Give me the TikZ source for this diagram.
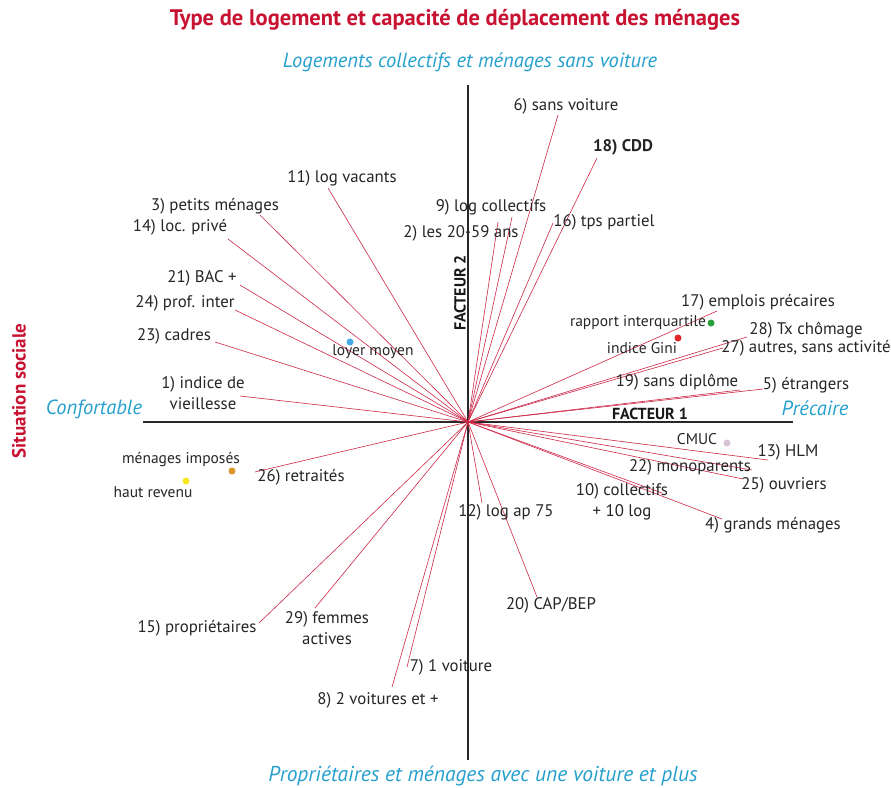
\documentclass[tikz,border=0pt]{standalone}
\usepackage{fontspec}
\setmainfont{PT Sans}
\definecolor{ttred}{RGB}{200,18,50}
\definecolor{lnred}{RGB}{205,40,70}
\definecolor{capcyan}{RGB}{38,160,205}
\definecolor{axgray}{RGB}{40,40,40}
\definecolor{dblue}{RGB}{70,170,230}
\definecolor{dgreen}{RGB}{40,160,60}
\definecolor{dred}{RGB}{220,40,40}
\definecolor{dlilac}{RGB}{215,195,215}
\definecolor{dorange}{RGB}{220,150,40}
\definecolor{dyellow}{RGB}{250,230,30}
\tikzset{
  lbl/.style={font=\fontsize{16.8}{20.5}\selectfont, inner sep=0pt, align=center, text=black!85},
  sml/.style={font=\fontsize{15.5}{17}\selectfont, inner sep=0pt, text=black!85},
  ray/.style={draw=lnred, line width=0.6pt},
  axisline/.style={draw=axgray, line width=1.2pt},
  captxt/.style={font=\fontsize{20.5}{23}\selectfont\itshape, text=capcyan, inner sep=0pt},
  ttl/.style={font=\fontsize{22.5}{25}\selectfont\bfseries, text=ttred, inner sep=0pt},
  fac/.style={font=\fontsize{16}{18}\selectfont\bfseries, inner sep=0pt, text=black!90},
  dotm/.style={circle, inner sep=0pt, minimum size=7pt}
}
\begin{document}
\begin{tikzpicture}[x=1pt,y=-1pt]
\useasboundingbox[fill=white] (0,0) rectangle (891,787);
% axes
\coordinate (O) at (468,422);
\coordinate (vt) at (468,85);
\coordinate (vb) at (468,760);
\coordinate (hl) at (143,422);
\coordinate (hr) at (793,422);
\draw[axisline] (vt) -- (vb);
\draw[axisline] (hl) -- (hr);
% titles
\node[ttl] (title) at (455,20) {Type de logement et capacité de déplacement des ménages};
\node[captxt] (ctop) at (470,62) {Logements collectifs et ménages sans voiture};
\node[captxt, font=\fontsize{21.5}{24}\selectfont\itshape] (cbot) at (483,776) {Propriétaires et ménages avec une voiture et plus};
\node[captxt] (cleft) at (94,409) {Confortable};
\node[captxt] (cright) at (815,408) {Précaire};
\node[ttl, rotate=90, font=\fontsize{19}{21}\selectfont\bfseries] (sit) at (19,391) {Situation sociale};
\node[fac] (f1) at (650,414) {FACTEUR 1};
\node[fac, rotate=90] (f2) at (460,293) {FACTEUR 2};
% ray ends
\coordinate (e6) at (558,115);
\coordinate (e18) at (597,158);
\coordinate (e16) at (553,223);
\coordinate (e9) at (512,217);
\coordinate (e2) at (498,222);
\coordinate (e11) at (328,188);
\coordinate (e3) at (260,215);
\coordinate (e14) at (228,239);
\coordinate (e21) at (240,285);
\coordinate (e24) at (235,310);
\coordinate (e23) at (215,342);
\coordinate (e1) at (240,396);
\coordinate (e17) at (717,311);
\coordinate (e28) at (747,337);
\coordinate (e27) at (723,348);
\coordinate (e19) at (740,390);
\coordinate (e5) at (763,389);
\coordinate (e13) at (768,460);
\coordinate (e22) at (752,470);
\coordinate (e25) at (743,479);
\coordinate (e10) at (662,493);
\coordinate (e4) at (722,519);
\coordinate (e12) at (482,503);
\coordinate (e20) at (537,597);
\coordinate (e26) at (255,472);
\coordinate (e15) at (259,623);
\coordinate (e29) at (315,608);
\coordinate (e7) at (407,667);
\coordinate (e8) at (392,687);
\foreach \e in {6,18,16,9,2,11,3,14,21,24,23,1,17,28,27,19,5,13,22,25,10,4,12,20,26,15,29,7,8}
  \draw[ray] (O) -- (e\e);
% labels
\node[lbl] (l6) at (566,106) {6) sans voiture};
\node[lbl, font=\fontsize{16.8}{20.5}\selectfont\bfseries] (l18) at (623,147) {18) CDD};
\node[lbl] (l16) at (604,222) {16) tps partiel};
\node[lbl] (l9) at (491,207) {9) log collectifs};
\node[lbl] (l2) at (461,233) {2) les 20-59 ans};
\node[lbl] (l11) at (342,178) {11) log vacants};
\node[lbl] (l3) at (215,206) {3) petits ménages};
\node[lbl] (l14) at (180,227) {14) loc. privé};
\node[lbl] (l21) at (202,278) {21) BAC +};
\node[lbl] (l24) at (185,303) {24) prof. inter};
\node[lbl] (l23) at (174,336) {23) cadres};
\node[lbl] (l1) at (203,393) {1) indice de\\vieillesse};
\node[lbl] (l17) at (758,302) {17) emplois précaires};
\node[lbl] (l28) at (806,330) {28) Tx chômage};
\node[lbl] (l27) at (806,348) {27) autres, sans activité};
\node[lbl] (l19) at (677,382) {19) sans diplôme};
\node[lbl] (l5) at (806,385) {5) étrangers};
\node[lbl] (l13) at (788,452) {13) HLM};
\node[lbl] (l22) at (690,467) {22) monoparents};
\node[lbl] (l25) at (784,485) {25) ouvriers};
\node[lbl] (l10) at (622,502) {10) collectifs\\+ 10 log};
\node[lbl] (l4) at (773,525) {4) grands ménages};
\node[lbl] (l12) at (506,512) {12) log ap 75};
\node[lbl] (l20) at (551,605) {20) CAP/BEP};
\node[lbl] (l26) at (301,477) {26) retraités};
\node[lbl] (l15) at (197,628) {15) propriétaires};
\node[lbl] (l29) at (327,628) {29) femmes\\actives};
\node[lbl] (l7) at (451,667) {7) 1 voiture};
\node[lbl] (l8) at (378,700) {8) 2 voitures et +};
% dots
\node[dotm, fill=dblue] (dloyer) at (350,342) {};
\node[sml] (tloyer) at (373,352) {loyer moyen};
\node[dotm, fill=dgreen] (drap) at (711,323) {};
\node[sml] (trap) at (638,323) {rapport interquartile};
\node[dotm, fill=dred] (dgini) at (678,338) {};
\node[sml] (tgini) at (642,348) {indice Gini};
\node[dotm, fill=dlilac] (dcmuc) at (727,443) {};
\node[sml] (tcmuc) at (697,439) {CMUC};
\node[dotm, fill=dorange] (dimp) at (232,471) {};
\node[sml] (timp) at (181,460) {ménages imposés};
\node[dotm, fill=dyellow] (dhaut) at (186,481) {};
\node[sml] (thaut) at (153,492) {haut revenu};
\end{tikzpicture}
\end{document}
